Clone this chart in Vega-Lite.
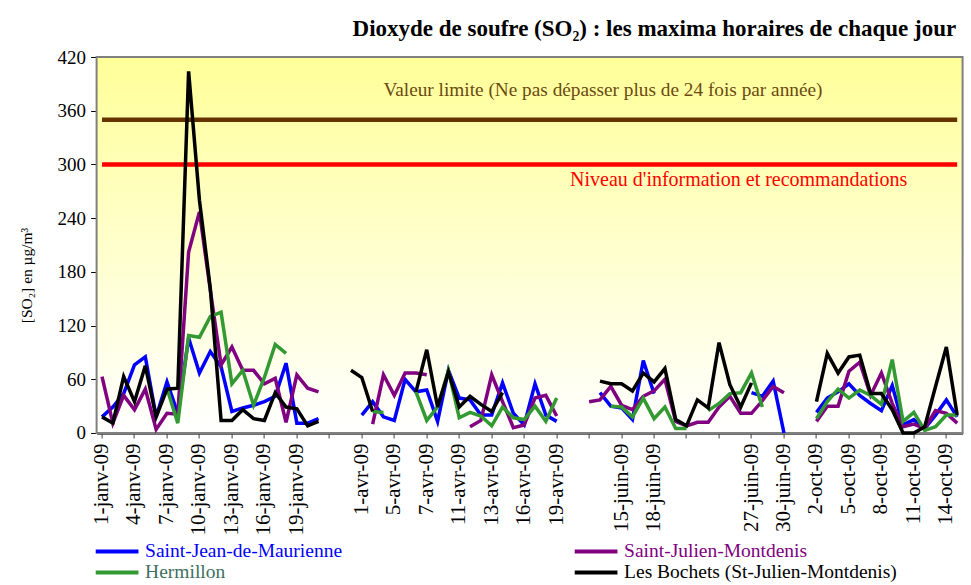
{
  "$schema": "https://vega.github.io/schema/vega-lite/v6.json",
  "width": 866,
  "height": 376,
  "autosize": {"type": "none"},
  "padding": {"left": 96.6, "top": 57, "right": 8, "bottom": 152},
  "background": "#ffffff",
  "config": {
    "view": {"stroke": null},
    "font": "Liberation Serif",
    "axis": {"grid": false, "labelFont": "Liberation Serif", "titleFont": "Liberation Serif", "labelColor": "#000000", "titleColor": "#000000"}
  },
  "title": {
    "text": "Dioxyde de soufre (SO₂) : les maxima horaires de chaque jour",
    "font": "Liberation Serif",
    "fontSize": 23,
    "fontWeight": "bold",
    "color": "#000000",
    "anchor": "end",
    "dx": -8,
    "offset": 7
  },
  "data": {
    "values": [
      {"n": 0, "Saint-Jean-de-Maurienne": 18, "Saint-Julien-Montdenis": 63, "Les Bochets (St-Julien-Montdenis)": 18},
      {"n": 1, "Saint-Jean-de-Maurienne": 29, "Saint-Julien-Montdenis": 11, "Les Bochets (St-Julien-Montdenis)": 11},
      {"n": 2, "Saint-Jean-de-Maurienne": 44, "Saint-Julien-Montdenis": 42, "Les Bochets (St-Julien-Montdenis)": 63},
      {"n": 3, "Saint-Jean-de-Maurienne": 76, "Saint-Julien-Montdenis": 26, "Les Bochets (St-Julien-Montdenis)": 35},
      {"n": 4, "Saint-Jean-de-Maurienne": 85, "Saint-Julien-Montdenis": 49, "Les Bochets (St-Julien-Montdenis)": 75},
      {"n": 5, "Saint-Jean-de-Maurienne": 18, "Saint-Julien-Montdenis": 4, "Les Bochets (St-Julien-Montdenis)": 18},
      {"n": 6, "Saint-Jean-de-Maurienne": 57, "Saint-Julien-Montdenis": 22, "Hermillon": 50, "Les Bochets (St-Julien-Montdenis)": 49},
      {"n": 7, "Saint-Jean-de-Maurienne": 22, "Saint-Julien-Montdenis": 21, "Hermillon": 11, "Les Bochets (St-Julien-Montdenis)": 50},
      {"n": 8, "Saint-Jean-de-Maurienne": 106, "Saint-Julien-Montdenis": 202, "Hermillon": 109, "Les Bochets (St-Julien-Montdenis)": 404},
      {"n": 9, "Saint-Jean-de-Maurienne": 67, "Saint-Julien-Montdenis": 247, "Hermillon": 107, "Les Bochets (St-Julien-Montdenis)": 260},
      {"n": 10, "Saint-Jean-de-Maurienne": 91, "Saint-Julien-Montdenis": 160, "Hermillon": 130, "Les Bochets (St-Julien-Montdenis)": 162},
      {"n": 11, "Saint-Jean-de-Maurienne": 74, "Saint-Julien-Montdenis": 76, "Hermillon": 135, "Les Bochets (St-Julien-Montdenis)": 14},
      {"n": 12, "Saint-Jean-de-Maurienne": 24, "Saint-Julien-Montdenis": 96, "Hermillon": 55, "Les Bochets (St-Julien-Montdenis)": 14},
      {"n": 13, "Saint-Jean-de-Maurienne": 28, "Saint-Julien-Montdenis": 70, "Hermillon": 70, "Les Bochets (St-Julien-Montdenis)": 26},
      {"n": 14, "Saint-Jean-de-Maurienne": 31, "Saint-Julien-Montdenis": 70, "Hermillon": 31, "Les Bochets (St-Julien-Montdenis)": 16},
      {"n": 15, "Saint-Jean-de-Maurienne": 35, "Saint-Julien-Montdenis": 55, "Hermillon": 62, "Les Bochets (St-Julien-Montdenis)": 14},
      {"n": 16, "Saint-Jean-de-Maurienne": 41, "Saint-Julien-Montdenis": 61, "Hermillon": 99, "Les Bochets (St-Julien-Montdenis)": 45},
      {"n": 17, "Saint-Jean-de-Maurienne": 78, "Saint-Julien-Montdenis": 12, "Hermillon": 89, "Les Bochets (St-Julien-Montdenis)": 29},
      {"n": 18, "Saint-Jean-de-Maurienne": 11, "Saint-Julien-Montdenis": 65, "Les Bochets (St-Julien-Montdenis)": 27},
      {"n": 19, "Saint-Jean-de-Maurienne": 11, "Saint-Julien-Montdenis": 50, "Les Bochets (St-Julien-Montdenis)": 8},
      {"n": 20, "Saint-Jean-de-Maurienne": 16, "Saint-Julien-Montdenis": 46, "Les Bochets (St-Julien-Montdenis)": 13},
      {"n": 21},
      {"n": 22},
      {"n": 23, "Les Bochets (St-Julien-Montdenis)": 70},
      {"n": 24, "Saint-Jean-de-Maurienne": 20, "Les Bochets (St-Julien-Montdenis)": 62},
      {"n": 25, "Saint-Jean-de-Maurienne": 35, "Saint-Julien-Montdenis": 10, "Hermillon": 24, "Les Bochets (St-Julien-Montdenis)": 24},
      {"n": 26, "Saint-Jean-de-Maurienne": 18, "Saint-Julien-Montdenis": 65, "Hermillon": 23},
      {"n": 27, "Saint-Jean-de-Maurienne": 14, "Saint-Julien-Montdenis": 42},
      {"n": 28, "Saint-Jean-de-Maurienne": 60, "Saint-Julien-Montdenis": 67},
      {"n": 29, "Saint-Jean-de-Maurienne": 46, "Saint-Julien-Montdenis": 67, "Hermillon": 46, "Les Bochets (St-Julien-Montdenis)": 46},
      {"n": 30, "Saint-Jean-de-Maurienne": 48, "Saint-Julien-Montdenis": 65, "Hermillon": 14, "Les Bochets (St-Julien-Montdenis)": 93},
      {"n": 31, "Saint-Jean-de-Maurienne": 13, "Hermillon": 29, "Les Bochets (St-Julien-Montdenis)": 29},
      {"n": 32, "Saint-Jean-de-Maurienne": 70, "Hermillon": 70, "Les Bochets (St-Julien-Montdenis)": 68},
      {"n": 33, "Saint-Jean-de-Maurienne": 39, "Hermillon": 17, "Les Bochets (St-Julien-Montdenis)": 29},
      {"n": 34, "Saint-Jean-de-Maurienne": 37, "Saint-Julien-Montdenis": 7, "Hermillon": 23, "Les Bochets (St-Julien-Montdenis)": 41},
      {"n": 35, "Saint-Jean-de-Maurienne": 20, "Saint-Julien-Montdenis": 14, "Hermillon": 19, "Les Bochets (St-Julien-Montdenis)": 32},
      {"n": 36, "Saint-Jean-de-Maurienne": 20, "Saint-Julien-Montdenis": 65, "Hermillon": 8, "Les Bochets (St-Julien-Montdenis)": 24},
      {"n": 37, "Saint-Jean-de-Maurienne": 56, "Saint-Julien-Montdenis": 35, "Hermillon": 29, "Les Bochets (St-Julien-Montdenis)": 45},
      {"n": 38, "Saint-Jean-de-Maurienne": 22, "Saint-Julien-Montdenis": 6, "Hermillon": 17},
      {"n": 39, "Saint-Jean-de-Maurienne": 9, "Saint-Julien-Montdenis": 9, "Hermillon": 15},
      {"n": 40, "Saint-Jean-de-Maurienne": 55, "Saint-Julien-Montdenis": 39, "Hermillon": 30},
      {"n": 41, "Saint-Jean-de-Maurienne": 20, "Saint-Julien-Montdenis": 42, "Hermillon": 13},
      {"n": 42, "Saint-Jean-de-Maurienne": 13, "Saint-Julien-Montdenis": 19, "Hermillon": 39},
      {"n": 43},
      {"n": 44},
      {"n": 45, "Saint-Julien-Montdenis": 35},
      {"n": 46, "Saint-Jean-de-Maurienne": 45, "Saint-Julien-Montdenis": 37, "Les Bochets (St-Julien-Montdenis)": 58},
      {"n": 47, "Saint-Jean-de-Maurienne": 30, "Saint-Julien-Montdenis": 52, "Hermillon": 30, "Les Bochets (St-Julien-Montdenis)": 55},
      {"n": 48, "Saint-Jean-de-Maurienne": 28, "Saint-Julien-Montdenis": 31, "Hermillon": 29, "Les Bochets (St-Julien-Montdenis)": 55},
      {"n": 49, "Saint-Jean-de-Maurienne": 15, "Saint-Julien-Montdenis": 26, "Hermillon": 18, "Les Bochets (St-Julien-Montdenis)": 47},
      {"n": 50, "Saint-Jean-de-Maurienne": 81, "Saint-Julien-Montdenis": 41, "Hermillon": 39, "Les Bochets (St-Julien-Montdenis)": 67},
      {"n": 51, "Saint-Jean-de-Maurienne": 44, "Saint-Julien-Montdenis": 47, "Hermillon": 16, "Les Bochets (St-Julien-Montdenis)": 57},
      {"n": 52, "Saint-Julien-Montdenis": 60, "Hermillon": 29, "Les Bochets (St-Julien-Montdenis)": 72},
      {"n": 53, "Saint-Julien-Montdenis": 13, "Hermillon": 5, "Les Bochets (St-Julien-Montdenis)": 15},
      {"n": 54, "Saint-Julien-Montdenis": 8, "Hermillon": 5, "Les Bochets (St-Julien-Montdenis)": 8},
      {"n": 55, "Saint-Julien-Montdenis": 12, "Les Bochets (St-Julien-Montdenis)": 37},
      {"n": 56, "Saint-Julien-Montdenis": 12, "Hermillon": 25, "Les Bochets (St-Julien-Montdenis)": 28},
      {"n": 57, "Saint-Julien-Montdenis": 29, "Hermillon": 33, "Les Bochets (St-Julien-Montdenis)": 101},
      {"n": 58, "Saint-Julien-Montdenis": 41, "Hermillon": 44, "Les Bochets (St-Julien-Montdenis)": 54},
      {"n": 59, "Saint-Julien-Montdenis": 22, "Hermillon": 45, "Les Bochets (St-Julien-Montdenis)": 29},
      {"n": 60, "Saint-Jean-de-Maurienne": 45, "Saint-Julien-Montdenis": 22, "Hermillon": 67, "Les Bochets (St-Julien-Montdenis)": 56},
      {"n": 61, "Saint-Jean-de-Maurienne": 41, "Saint-Julien-Montdenis": 36, "Hermillon": 29},
      {"n": 62, "Saint-Jean-de-Maurienne": 58, "Saint-Julien-Montdenis": 52},
      {"n": 63, "Saint-Jean-de-Maurienne": 0, "Saint-Julien-Montdenis": 45},
      {"n": 64},
      {"n": 65},
      {"n": 66, "Saint-Jean-de-Maurienne": 23, "Saint-Julien-Montdenis": 13, "Hermillon": 16, "Les Bochets (St-Julien-Montdenis)": 35},
      {"n": 67, "Saint-Jean-de-Maurienne": 39, "Saint-Julien-Montdenis": 30, "Hermillon": 35, "Les Bochets (St-Julien-Montdenis)": 89},
      {"n": 68, "Saint-Jean-de-Maurienne": 46, "Saint-Julien-Montdenis": 30, "Hermillon": 49, "Les Bochets (St-Julien-Montdenis)": 67},
      {"n": 69, "Saint-Jean-de-Maurienne": 55, "Saint-Julien-Montdenis": 69, "Hermillon": 39, "Les Bochets (St-Julien-Montdenis)": 85},
      {"n": 70, "Saint-Jean-de-Maurienne": 42, "Saint-Julien-Montdenis": 79, "Hermillon": 48, "Les Bochets (St-Julien-Montdenis)": 87},
      {"n": 71, "Saint-Jean-de-Maurienne": 33, "Saint-Julien-Montdenis": 42, "Hermillon": 42, "Les Bochets (St-Julien-Montdenis)": 44},
      {"n": 72, "Saint-Jean-de-Maurienne": 25, "Saint-Julien-Montdenis": 67, "Hermillon": 32, "Les Bochets (St-Julien-Montdenis)": 44},
      {"n": 73, "Saint-Jean-de-Maurienne": 53, "Saint-Julien-Montdenis": 33, "Hermillon": 82, "Les Bochets (St-Julien-Montdenis)": 26},
      {"n": 74, "Saint-Jean-de-Maurienne": 9, "Saint-Julien-Montdenis": 7, "Hermillon": 13, "Les Bochets (St-Julien-Montdenis)": 0},
      {"n": 75, "Saint-Jean-de-Maurienne": 15, "Saint-Julien-Montdenis": 10, "Hermillon": 23, "Les Bochets (St-Julien-Montdenis)": 0},
      {"n": 76, "Saint-Jean-de-Maurienne": 5, "Saint-Julien-Montdenis": 5, "Hermillon": 3, "Les Bochets (St-Julien-Montdenis)": 7},
      {"n": 77, "Saint-Jean-de-Maurienne": 20, "Saint-Julien-Montdenis": 25, "Hermillon": 7, "Les Bochets (St-Julien-Montdenis)": 52},
      {"n": 78, "Saint-Jean-de-Maurienne": 37, "Saint-Julien-Montdenis": 22, "Hermillon": 20, "Les Bochets (St-Julien-Montdenis)": 96},
      {"n": 79, "Saint-Jean-de-Maurienne": 18, "Saint-Julien-Montdenis": 11, "Hermillon": 20, "Les Bochets (St-Julien-Montdenis)": 20}
    ]
  },
  "encoding": {
    "x": {
      "field": "n",
      "type": "ordinal",
      "axis": {
        "title": null,
        "values": [0,3,6,9,12,15,18,21,24,27,30,33,36,39,42,45,48,51,54,57,60,63,66,69,72,75,78],
        "labelExpr": "['1-janv-09','4-janv-09','7-janv-09','10-janv-09','13-janv-09','16-janv-09','19-janv-09','','1-avr-09','5-avr-09','7-avr-09','11-avr-09','13-avr-09','16-avr-09','19-avr-09','','15-juin-09','18-juin-09','','','27-juin-09','30-juin-09','2-oct-09','5-oct-09','8-oct-09','11-oct-09','14-oct-09'][datum.value/3]",
        "labelAngle": -90,
        "labelFontSize": 21,
        "labelPadding": 5,
        "tickSize": 5,
        "tickColor": "#404040",
        "domainColor": "#404040",
        "domainWidth": 2.5,
        "labelOverlap": false,
        "labelBound": false
      }
    },
    "y": {
      "type": "quantitative",
      "scale": {"domain": [0, 420], "nice": false, "zero": true},
      "axis": {
        "title": "[SO₂] en µg/m³",
        "titleFontSize": 15.5,
        "titleFontWeight": "normal",
        "titleAngle": -90,
        "titleAlign": "center",
        "titleBaseline": "middle",
        "titleX": -70,
        "titleY": 218,
        "values": [0, 60, 120, 180, 240, 300, 360, 420],
        "labelFontSize": 19,
        "labelPadding": 5,
        "tickSize": 6,
        "tickColor": "#000000",
        "domainColor": "#000000",
        "domainWidth": 1.5
      }
    }
  },
  "layer": [
    {
      "data": {"values": [{"bas": 0, "haut": 420}]},
      "mark": {
        "type": "rect",
        "stroke": "#808080",
        "strokeWidth": 2,
        "color": {
          "gradient": "linear",
          "x1": 0, "y1": 0, "x2": 0, "y2": 1,
          "stops": [
            {"offset": 0, "color": "#FFFF99"},
            {"offset": 1, "color": "#FFFFFF"}
          ]
        }
      },
      "encoding": {
        "x": null,
        "y": {"field": "haut", "type": "quantitative"},
        "y2": {"field": "bas"}
      }
    },
    {
      "data": {"values": [{"n": 0, "fin": 79, "seuil": 350}]},
      "mark": {"type": "rule", "color": "#663300", "strokeWidth": 4.5},
      "encoding": {
        "x": {"field": "n", "type": "ordinal"},
        "x2": {"field": "fin"},
        "y": {"field": "seuil", "type": "quantitative"}
      }
    },
    {
      "data": {"values": [{"n": 0, "fin": 79, "seuil": 300}]},
      "mark": {"type": "rule", "color": "#FF0000", "strokeWidth": 4.5},
      "encoding": {
        "x": {"field": "n", "type": "ordinal"},
        "x2": {"field": "fin"},
        "y": {"field": "seuil", "type": "quantitative"}
      }
    },
    {
      "data": {"values": [{"n": 46, "v": 383, "label": "Valeur limite (Ne pas dépasser plus de 24 fois par année)"}]},
      "mark": {"type": "text", "font": "Liberation Serif", "fontSize": 19.3, "color": "#6B4A10", "align": "center", "baseline": "middle", "dx": 3},
      "encoding": {
        "x": {"field": "n", "type": "ordinal"},
        "y": {"field": "v", "type": "quantitative"},
        "text": {"field": "label"}
      }
    },
    {
      "data": {"values": [{"n": 59, "v": 283, "label": "Niveau d'information et recommandations"}]},
      "mark": {"type": "text", "font": "Liberation Serif", "fontSize": 20, "color": "#FF0000", "align": "center", "baseline": "middle", "dx": -2},
      "encoding": {
        "x": {"field": "n", "type": "ordinal"},
        "y": {"field": "v", "type": "quantitative"},
        "text": {"field": "label"}
      }
    },
    {
      "transform": [
        {"fold": ["Saint-Jean-de-Maurienne", "Saint-Julien-Montdenis", "Hermillon", "Les Bochets (St-Julien-Montdenis)"], "as": ["station", "so2"]}
      ],
      "mark": {"type": "line", "strokeWidth": 3.5, "invalid": "break-paths-show-domains", "strokeJoin": "miter"},
      "encoding": {
        "y": {"field": "so2", "type": "quantitative"},
        "color": {
          "field": "station",
          "type": "nominal",
          "scale": {
            "domain": ["Saint-Jean-de-Maurienne", "Saint-Julien-Montdenis", "Hermillon", "Les Bochets (St-Julien-Montdenis)"],
            "range": ["#0000FF", "#800080", "#339933", "#000000"]
          },
          "legend": {
            "title": null,
            "orient": "none",
            "legendX": 9,
            "legendY": 483,
            "columns": 2,
            "direction": "horizontal",
            "columnPadding": 224,
            "rowPadding": 0,
            "symbolType": "M-2.25,0H2.25",
            "symbolSize": 361,
            "symbolStrokeWidth": 4,
            "labelFont": "Liberation Serif",
            "labelFontSize": 19.5,
            "labelOffset": 16.5,
            "labelLimit": 400,
            "encode": {
              "labels": {
                "update": {
                  "fill": {"signal": "datum.value == 'Hermillon' ? '#3E7060' : scale('color', datum.value)"}
                }
              }
            }
          }
        }
      }
    }
  ]
}
